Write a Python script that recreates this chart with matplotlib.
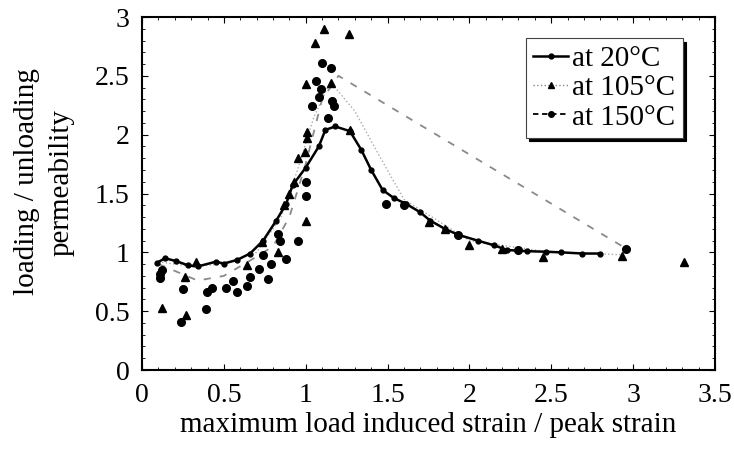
import matplotlib
matplotlib.use('Agg')
import matplotlib.pyplot as plt
from matplotlib.lines import Line2D
from matplotlib.ticker import MultipleLocator, FormatStrFormatter

plt.rcParams['font.family'] = ['Liberation Serif', 'DejaVu Serif']

# 20C: points along the smooth curve
x20 = [0.09, 0.14, 0.21, 0.28, 0.34, 0.45, 0.50, 0.58, 0.66, 0.74, 0.82, 0.88, 0.92,
       1.00, 1.08, 1.12, 1.18, 1.27, 1.34, 1.40, 1.47, 1.54, 1.61, 1.70, 1.76, 1.85,
       1.93, 2.05, 2.15, 2.23, 2.35, 2.47, 2.56, 2.69, 2.80]
y20 = [0.91, 0.95, 0.925, 0.89, 0.88, 0.92, 0.905, 0.935, 0.99, 1.10, 1.27, 1.41, 1.57,
       1.72, 1.90, 2.04, 2.07, 2.03, 1.87, 1.70, 1.53, 1.46, 1.415, 1.34, 1.27, 1.20,
       1.15, 1.10, 1.06, 1.02, 1.01, 1.005, 1.0, 0.99, 0.99]

# 105C: triangles
x105 = [0.124, 0.269, 0.263, 0.33, 0.64, 0.73, 0.833, 0.87, 0.90, 0.93, 0.955, 0.996,
        1.00, 1.006, 1.01, 1.004, 1.055, 1.114, 1.264, 1.153, 1.27, 1.755, 1.85, 2.00,
        2.20, 2.45, 2.93, 3.31]
y105 = [0.53, 0.47, 0.79, 0.92, 0.89, 1.09, 1.005, 1.40, 1.50, 1.60, 1.80, 1.855,
        1.27, 1.97, 2.02, 2.43, 2.775, 2.90, 2.855, 2.435, 2.04, 1.26, 1.20, 1.06,
        1.03, 0.96, 0.97, 0.915]
# 105C: dotted trend line
x105_fit = [0.10, 0.30, 0.50, 0.70, 0.85, 0.95, 1.05, 1.15, 1.30, 1.45, 1.60, 2.00, 2.50, 2.93]
y105_fit = [0.92, 0.88, 0.90, 1.00, 1.30, 1.70, 2.15, 2.45, 2.20, 1.82, 1.45, 1.10, 1.00, 0.98]

# 150C: circles
x150 = [0.11, 0.11, 0.12, 0.238, 0.248, 0.389, 0.395, 0.43, 0.51, 0.558, 0.578, 0.64,
        0.66, 0.717, 0.772, 0.79, 0.74, 0.88, 0.843, 0.833, 0.955, 1.00, 1.00, 1.038,
        1.063, 1.08, 1.093, 1.10, 1.136, 1.153, 1.163, 1.175, 1.49, 1.60, 1.93, 2.30, 2.957]
y150 = [0.78, 0.82, 0.85, 0.405, 0.69, 0.515, 0.66, 0.70, 0.70, 0.755, 0.665, 0.71,
        0.79, 0.86, 0.77, 0.90, 0.98, 0.94, 1.10, 1.16, 1.10, 1.48, 1.60, 2.24,
        2.46, 2.32, 2.39, 2.61, 2.14, 2.57, 2.29, 2.24, 1.415, 1.40, 1.15, 1.02, 1.025]
# 150C: dashed trend line
x150_fit = [0.10, 0.17, 0.34, 0.50, 0.66, 0.80, 0.90, 1.00, 1.10, 1.20, 2.96]
y150_fit = [0.90, 0.86, 0.76, 0.80, 0.93, 1.05, 1.30, 1.75, 2.30, 2.50, 1.03]

fig = plt.figure(figsize=(7.34, 4.55), dpi=100)
ax = fig.add_axes([0.1935, 0.1868, 0.7805, 0.7758])

ax.plot(x150_fit, y150_fit, color='#8a8a8a', lw=1.3, ls=(0, (4, 5)))
ax.plot(x105_fit, y105_fit, color='#aaaaaa', lw=1.0, ls=':')
ax.plot(x105, y105, ls='none', marker='^', ms=5.5, color='black')
ax.plot(x150, y150, ls='none', marker='o', ms=5.5, color='black')
ax.plot(x20, y20, color='black', lw=1.8, marker='o', ms=3.5)

ax.set_xlim(0, 3.5)
ax.set_ylim(0, 3)
ax.xaxis.set_major_locator(MultipleLocator(0.5))
ax.yaxis.set_major_locator(MultipleLocator(0.5))
ax.xaxis.set_minor_locator(MultipleLocator(0.1))
ax.yaxis.set_minor_locator(MultipleLocator(0.1))
ax.xaxis.set_major_formatter(FormatStrFormatter('%g'))
ax.yaxis.set_major_formatter(FormatStrFormatter('%g'))
ax.tick_params(which='both', direction='in', top=True, right=True)
ax.tick_params(which='major', length=4, width=0.8)
ax.tick_params(which='minor', length=2.5, width=0.6)
ax.tick_params(axis='x', labelsize=20, pad=9)
ax.tick_params(axis='y', labelsize=20, pad=9)
for s in ax.spines.values():
    s.set_linewidth(1.5)

ax.set_xlabel('maximum load induced strain / peak strain', fontsize=21, labelpad=3)
fig.text(0.037, 0.60, 'loading / unloading', rotation=90, fontsize=21,
         ha='center', va='center')
fig.text(0.084, 0.60, 'permeability', rotation=90, fontsize=21,
         ha='center', va='center')

handles = [
    Line2D([], [], color='black', lw=1.8, marker='o', ms=3.5),
    Line2D([], [], color='#888888', lw=1.0, ls=':', marker='^', ms=5, mfc='black', mec='black'),
    Line2D([], [], color='black', lw=1.3, ls=(0, (3, 2)), marker='o', ms=4),
]
leg = ax.legend(handles, ['at 20°C', 'at 105°C', 'at 150°C'], loc='upper right',
                bbox_to_anchor=(0.944, 0.94), fontsize=21, frameon=True,
                fancybox=False, handlelength=1.2, handletextpad=0.15,
                labelspacing=0.1, borderpad=0.25, borderaxespad=0,
                shadow={'color': 'black', 'alpha': 1, 'ox': 2.5, 'oy': -2.5})
leg.get_frame().set_edgecolor('#444444')
leg.get_frame().set_linewidth(0.8)

fig.savefig('out.png', dpi=100)
